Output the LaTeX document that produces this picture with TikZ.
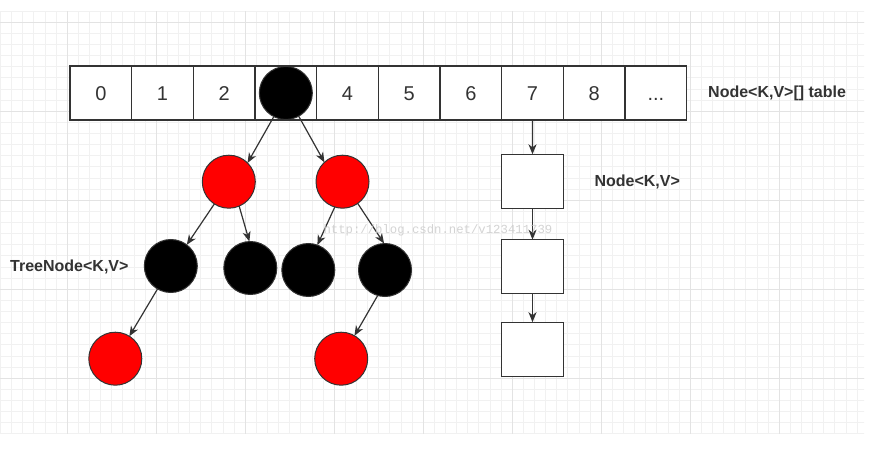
\documentclass[tikz,border=0pt]{standalone}
\usepackage{fontspec}
\setmainfont{Liberation Sans}
\newfontfamily\markfont{Liberation Mono}
\usetikzlibrary{arrows.meta}
\definecolor{ink}{HTML}{333333}
\definecolor{gridminor}{HTML}{F1F1F1}
\definecolor{gridmajor}{HTML}{E3E3E3}
\definecolor{rbred}{HTML}{FF0000}
\begin{document}
\begin{tikzpicture}[x=1pt,y=-1pt,
  cell/.style={draw=ink, line width=1.3pt, fill=white, minimum width=61.67pt,
    minimum height=54pt, inner sep=0pt, outer sep=0pt, text height=14.5pt, text depth=0pt,
    font=\fontsize{20}{24}\selectfont, text=ink},
  listbox/.style={draw=ink, line width=1.3pt, fill=white, minimum width=61.67pt,
    minimum height=54pt, inner sep=0pt, outer sep=0pt},
  dot/.style={circle, draw=ink, line width=1pt, minimum size=53pt, inner sep=0pt, outer sep=0pt},
  blackdot/.style={dot, fill=black},
  reddot/.style={dot, fill=rbred},
  lbl/.style={font=\bfseries\fontsize{16}{19}\selectfont, text=ink, inner sep=0pt, anchor=west},
  link/.style={draw=ink, line width=1.2pt, -{Stealth[length=10pt,width=8pt,inset=3pt]}}
]
% page and background
\useasboundingbox (0,0) rectangle (870,452);
\fill[white] (0,0) rectangle (870,452);

% squared paper
\begin{scope}
  \clip (0,11.5) rectangle (864,433);
  \draw[gridminor, line width=1pt]
    foreach \k in {0,...,78} {(0.6+11.125*\k,0) -- (0.6+11.125*\k,452)}
    foreach \j in {0,...,38} {(0,11.2+11.125*\j) -- (870,11.2+11.125*\j)};
  \draw[gridmajor, line width=1pt]
    foreach \k in {0,...,9} {(67.35+89*\k,0) -- (67.35+89*\k,452)}
    foreach \j in {0,...,4} {(0,22.3+89*\j) -- (870,22.3+89*\j)};
\end{scope}

% bucket array
\foreach \i/\t in {0/0,1/1,2/2,3/{},4/4,5/5,6/6,7/7,8/8}
  \node[cell] (c\i) at (70+61.67*\i+30.835,93) {\t};
\node[cell] (c9) at (70+61.67*9+30.835,93) {...};

% red-black tree hanging from bucket 3
\node[blackdot] (root) at (c3) {};
\node[reddot]   (rl)  at (228.8,181.7) {};
\node[reddot]   (rr)  at (342.5,181.7) {};
\node[blackdot] (b1)  at (170.8,266) {};
\node[blackdot] (b2)  at (250.3,268) {};
\node[blackdot] (b3)  at (308.3,270) {};
\node[blackdot] (b4)  at (385,270) {};
\node[reddot]   (rll) at (115.3,358.7) {};
\node[reddot]   (rrr) at (341.2,358.7) {};

\draw[link] (root.243)   -- (rl.45);
\draw[link] (root.299.5) -- (rr.133);
\draw[link] (rl.237)     -- (b1.53);
\draw[link] (rl.293)     -- (b2.92);
\draw[link] (rr.253)     -- (b3.70);
\draw[link] (rr.305)     -- (b4.92);
\draw[link] (b1.240)     -- (rll.58);
\draw[link] (b4.254)     -- (rrr.60);

% linked list hanging from bucket 7
\node[listbox] (n1) at (532.5,181.3) {};
\node[listbox] (n2) at (532.5,266.7) {};
\node[listbox] (n3) at (532.5,349.2) {};
\draw[link] (c7.south) -- (n1.north);
\draw[link] (n1.south) -- (n2.north);
\draw[link] (n2.south) -- (n3.north);

% captions
\node[lbl] (tablelbl) at (708,93)      {Node<K,V>[] table};
\node[lbl] (listlbl)  at (594.3,181.7) {Node<K,V>};
\node[lbl] (treelbl)  at (10,267)      {TreeNode<K,V>};

% blog address
\node[font=\markfont\fontsize{12.3}{14}\selectfont, text=black!20, anchor=west,
  inner sep=0pt, opacity=0.85] (mark) at (323.3,230.5) {http://blog.csdn.net/v123411739};
\end{tikzpicture}
\end{document}
